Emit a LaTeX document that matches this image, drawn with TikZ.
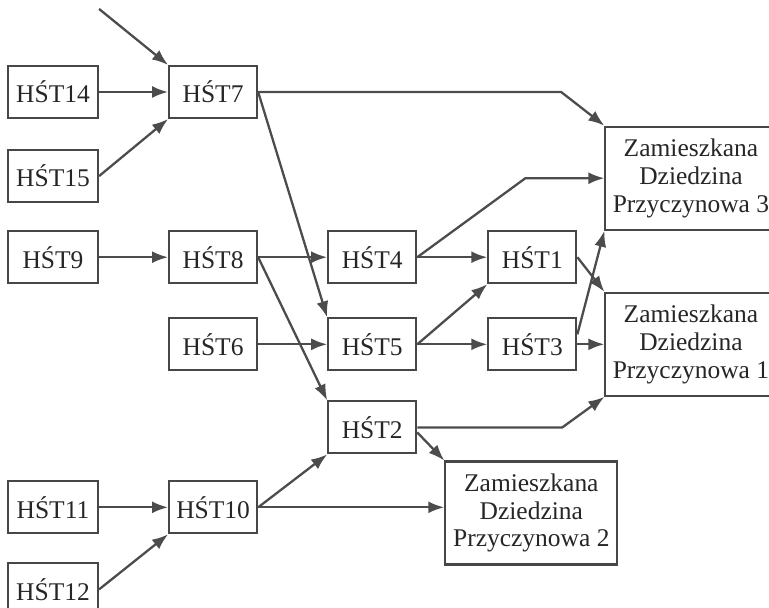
\documentclass[tikz,border=0pt]{standalone}
\usepackage{fontspec}
\setmainfont{Liberation Serif}
\usepackage{xcolor}
\usepackage{tikz}
\usetikzlibrary{arrows.meta,positioning}
\definecolor{boxline}{HTML}{474747}
\definecolor{arrline}{HTML}{4C4C4C}

\begin{document}
\begin{tikzpicture}[node distance=0.6cm, every node/.style={font=\fontsize{14.5}{15.8}\selectfont, align=center, text=black!85},
    hst/.style={draw=boxline, line width=1.2pt, minimum width=1.76cm, minimum height=1.04cm, inner sep=2pt},
    zdp/.style={draw=boxline, line width=1.2pt, minimum width=3.42cm, minimum height=2.06cm, inner sep=2pt},
    arr/.style={draw=arrline, line width=1.3pt, -{Latex[length=3.2mm,width=2.4mm]}}]
    \useasboundingbox (0,0) rectangle (15.38,-12.16);

    % left column
    \node[hst, minimum width=1.8cm] (h14) at (1.06,-1.84) {HŚT14};
    \node[hst, minimum width=1.8cm, below=0.6cm of h14] (h15) {HŚT15};
    \node[hst, minimum width=1.8cm, below=0.54cm of h15] (h9) {HŚT9};
    \node[hst, minimum width=1.8cm, below=3.92cm of h9] (h11) {HŚT11};
    \node[hst, minimum width=1.8cm, below=0.56cm of h11] (h12) {HŚT12};

    % second column
    \node[hst, right=1.38cm of h14] (h7) {HŚT7};
    \node[hst, right=1.38cm of h9] (h8) {HŚT8};
    \node[hst, below=0.66cm of h8] (h6) {HŚT6};
    \node[hst, right=1.38cm of h11] (h10) {HŚT10};

    % third and fourth column
    \node[hst, right=1.38cm of h8] (h4) {HŚT4};
    \node[hst, right=1.38cm of h6] (h5) {HŚT5};
    \node[hst, below=0.58cm of h5] (h2) {HŚT2};
    \node[hst, right=1.4cm of h4] (h1) {HŚT1};
    \node[hst, right=1.4cm of h5] (h3) {HŚT3};

    % domains
    \node[zdp, right=0.54cm of h3] (z1) {Zamieszkana\\Dziedzina\\Przyczynowa 1};
    \node[zdp, above=1.22cm of z1] (z3) {Zamieszkana\\Dziedzina\\Przyczynowa 3};
    \node[zdp, minimum width=3.44cm, below right=0.12cm and 0.54cm of h2.south east] (z2) {Zamieszkana\\Dziedzina\\Przyczynowa 2};

    \coordinate[above left=1.12cm and 1.38cm of h7.north west] (src);

    \draw[arr] (src) -- (h7.north west);
    \draw[arr] (h14) -- (h7);
    \draw[arr] (h15.east) -- (h7.south west);
    \draw[arr] (h9) -- (h8);
    \draw[arr] (h7.east) -- ++(6.06,0) -- (z3.north west);
    \draw[arr] (h7.east) -- (h5.north west);
    \draw[arr] (h8) -- (h4);
    \draw[arr] (h8.east) -- (h2.north west);
    \draw[arr] (h6) -- (h5);
    \draw[arr] (h4) -- (h1);
    \draw[arr] (h4.east) -- ([xshift=-1.58cm]z3.west) -- (z3.west);
    \draw[arr] (h5) -- (h3);
    \draw[arr] (h5.east) -- (h1.south west);
    \draw[arr] (h1.east) -- (z1.north west);
    \draw[arr] ([yshift=0.2cm]h3.east) -- (z3.south west);
    \draw[arr] (h3) -- (z1);
    \draw[arr] (h2.east) -- ++(2.9,0) -- (z1.south west);
    \draw[arr] ([yshift=-0.1cm]h2.east) -- (z2.north west);
    \draw[arr] (h10.east) -- (h2.south west);
    \draw[arr] (h10.east) -- (h10.east -| z2.west);
    \draw[arr] (h11) -- (h10);
    \draw[arr] (h12.east) -- (h10.south west);
\end{tikzpicture}
\end{document}
